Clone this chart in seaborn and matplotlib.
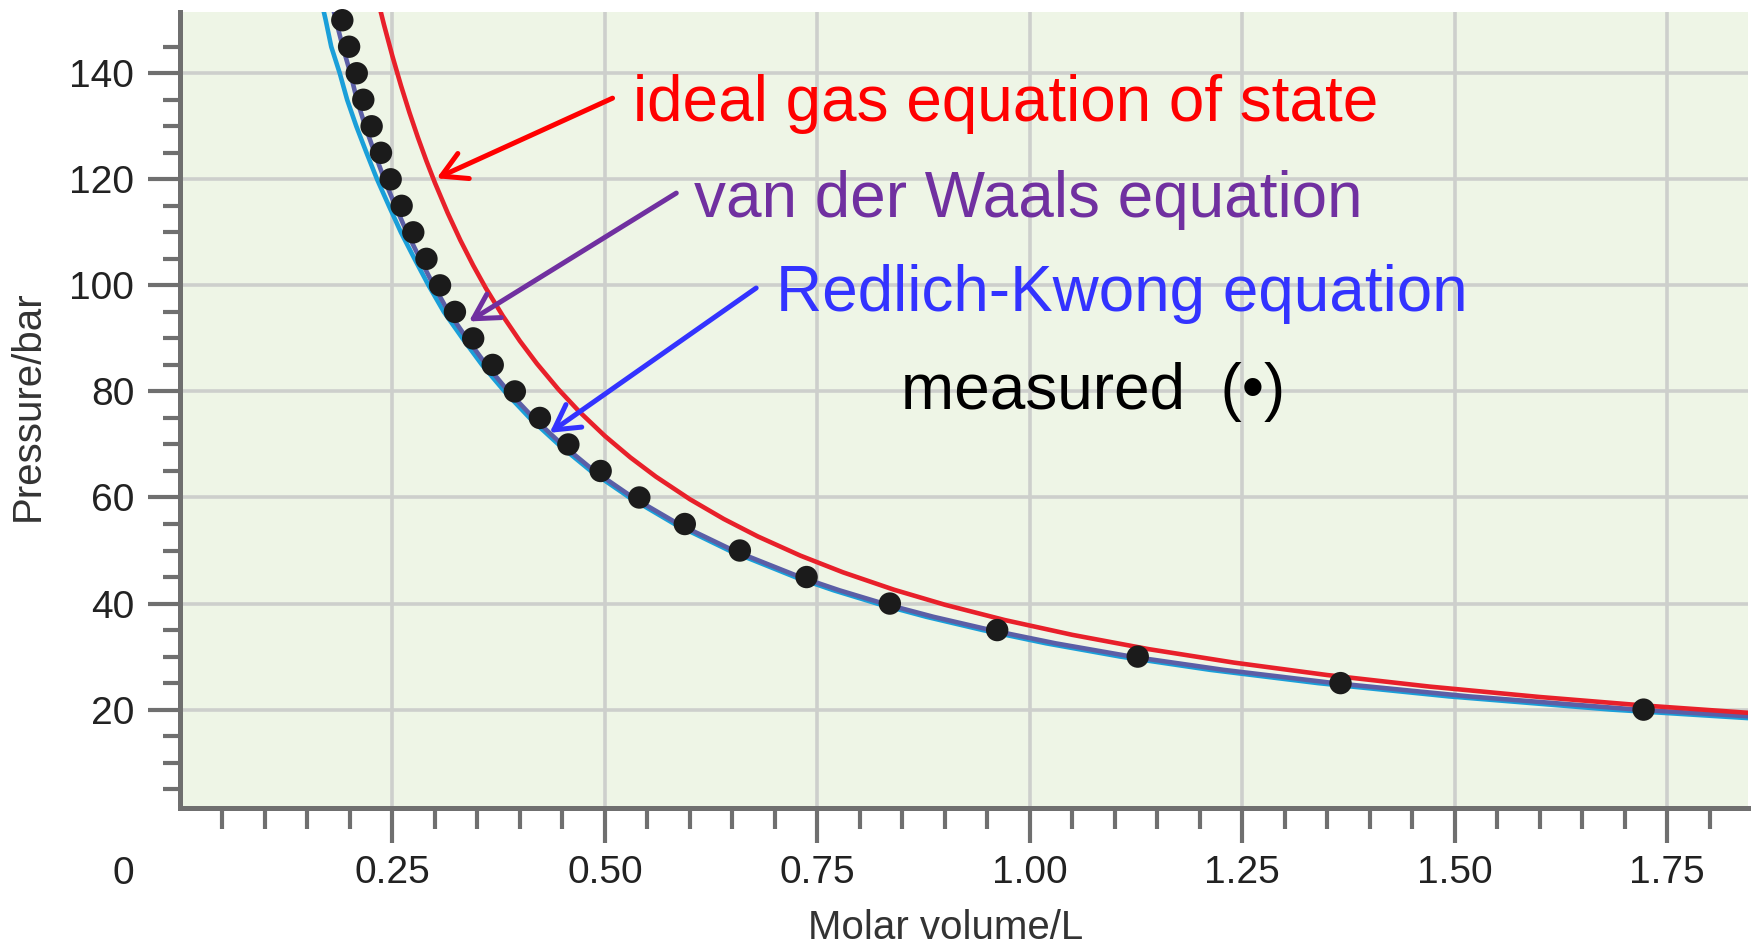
import matplotlib
matplotlib.use("Agg")
import matplotlib.pyplot as plt
import matplotlib.transforms as mtransforms
from matplotlib.ticker import FixedLocator
import seaborn as sns

# ---------------- data ----------------
# measured points (molar volume in L, pressure in bar)
meas_P = [150, 145, 140, 135, 130, 125, 120, 115, 110, 105, 100, 95, 90, 85, 80,
          75, 70, 65, 60, 55, 50, 45, 40, 35, 30, 25, 20]
meas_V = [0.191, 0.199, 0.208, 0.2157, 0.2255, 0.2365, 0.2479, 0.2608, 0.2745, 0.290,
          0.306, 0.3235, 0.345, 0.368, 0.394, 0.4235, 0.457, 0.495, 0.5405, 0.594,
          0.6588, 0.7373, 0.8353, 0.9616, 1.127, 1.3656, 1.7222]

# ideal gas curve (red)
ideal_V = [0.232, 0.24, 0.25, 0.26, 0.27, 0.28, 0.29, 0.30, 0.315, 0.33, 0.345, 0.36,
           0.38, 0.40, 0.42, 0.445, 0.47, 0.50, 0.53, 0.56, 0.60, 0.64, 0.68, 0.73,
           0.78, 0.84, 0.90, 0.97, 1.05, 1.14, 1.24, 1.35, 1.47, 1.60, 1.72, 1.845]
ideal_P = [154.31, 149.17, 143.2, 137.69, 132.59, 127.86, 123.45, 119.33, 113.65, 108.48,
           103.77, 99.44, 94.21, 89.5, 85.24, 80.45, 76.17, 71.6, 67.55, 63.93, 59.67,
           55.94, 52.65, 49.04, 45.90, 42.62, 39.78, 36.91, 34.10, 31.40, 28.87, 26.52,
           24.35, 22.38, 20.81, 19.40]

# van der Waals curve (slate purple)
vdw_P = [153, 150, 145, 140, 135, 130, 125, 120, 115, 110, 105, 100, 95, 90, 85, 80,
         75, 70, 65, 60, 55, 50, 45, 42.5, 40, 37.5, 35, 32.5, 30, 27.5, 25, 22.5, 20,
         18.75]
vdw_V = [0.179, 0.1835, 0.1915, 0.2005, 0.2082, 0.218, 0.229, 0.2404, 0.2533, 0.267,
         0.2825, 0.2985, 0.316, 0.3375, 0.3605, 0.3865, 0.416, 0.4495, 0.4875, 0.533,
         0.5865, 0.6513, 0.7298, 0.776, 0.8278, 0.8867, 0.9541, 1.0304, 1.1195, 1.228,
         1.3581, 1.5164, 1.7147, 1.845]

# Redlich-Kwong curve (cyan)
rk_P = [153, 150, 145, 140, 135, 130, 125, 120, 115, 110, 105, 100, 95, 90, 85, 80,
        75, 70, 65, 60, 55, 50, 45, 42.5, 40, 37.5, 35, 32.5, 30, 27.5, 25, 22.5, 20,
        18.4]
rk_V = [0.1672, 0.1715, 0.178, 0.188, 0.1967, 0.2075, 0.2195, 0.2319, 0.2458, 0.260,
        0.276, 0.2925, 0.3105, 0.3325, 0.3555, 0.382, 0.4115, 0.4455, 0.4835, 0.529,
        0.582, 0.6463, 0.7238, 0.7692, 0.8203, 0.8783, 0.9446, 1.0193, 1.1065, 1.2123,
        1.3391, 1.4928, 1.6847, 1.845]

x_major = [0.25, 0.50, 0.75, 1.00, 1.25, 1.50, 1.75]
x_major_labels = ["0.25", "0.50", "0.75", "1.00", "1.25", "1.50", "1.75"]
x_minor = [0.05, 0.10, 0.15, 0.20, 0.30, 0.35, 0.40, 0.45, 0.55, 0.60, 0.65, 0.70,
           0.80, 0.85, 0.90, 0.95, 1.05, 1.10, 1.15, 1.20, 1.30, 1.35, 1.40, 1.45,
           1.55, 1.60, 1.65, 1.70, 1.80]
y_major = [20, 40, 60, 80, 100, 120, 140]
y_minor = [5, 10, 15, 25, 30, 35, 45, 50, 55, 65, 70, 75, 85, 90, 95, 105, 110, 115,
           125, 130, 135, 145]

labels = ["ideal gas equation of state", "van der Waals equation",
          "Redlich-Kwong equation", "measured  (\u2022)"]

# ---------------- style ----------------
sns.set_theme(style="white")
plt.rcParams["font.family"] = ["Liberation Sans", "DejaVu Sans"]

AX_GRAY = "#6f6f6f"
fig = plt.figure(figsize=(17.56, 9.46), dpi=100)
ax = fig.add_axes([0.1025, 0.1456, 0.8929, 0.8420])
ax.set_facecolor("#eef5e6")

LW = 3.3
sns.lineplot(x=rk_V, y=rk_P, ax=ax, color="#1a9fd9", lw=LW, sort=False,
             estimator=None, zorder=3)
sns.lineplot(x=vdw_V, y=vdw_P, ax=ax, color="#5b5ea6", lw=LW, sort=False,
             estimator=None, zorder=3.2)
sns.lineplot(x=ideal_V, y=ideal_P, ax=ax, color="#e8202a", lw=LW, sort=False,
             estimator=None, zorder=3.4)
sns.scatterplot(x=meas_V, y=meas_P, ax=ax, color="#1b1b1b", s=260, edgecolor="none",
                zorder=5, clip_on=False)

ax.set_xlim(0, 1.845)
ax.set_ylim(1.4, 151.6)

ax.xaxis.set_major_locator(FixedLocator(x_major))
ax.set_xticklabels(x_major_labels)
ax.xaxis.set_minor_locator(FixedLocator(x_minor))
ax.yaxis.set_major_locator(FixedLocator(y_major))
ax.yaxis.set_minor_locator(FixedLocator(y_minor))

ax.grid(True, which="major", color="#cdcfcc", lw=2.6)
ax.set_axisbelow(True)

for side in ["top", "right"]:
    ax.spines[side].set_visible(False)
for side in ["left", "bottom"]:
    ax.spines[side].set_color(AX_GRAY)
    ax.spines[side].set_linewidth(3.6)

ax.tick_params(axis="x", which="major", direction="out", length=25, width=3,
               color=AX_GRAY, pad=9, labelsize=28, labelcolor="#222222", bottom=True)
ax.tick_params(axis="x", which="minor", direction="out", length=15, width=3,
               color=AX_GRAY, bottom=True)
ax.tick_params(axis="y", which="major", direction="out", length=23, width=3,
               color=AX_GRAY, pad=10, labelsize=28, labelcolor="#222222", left=True)
ax.tick_params(axis="y", which="minor", direction="out", length=12, width=3,
               color=AX_GRAY, left=True)

ax.set_xlabel("Molar volume/L", fontsize=29, color="#333333")
ax.xaxis.set_label_coords(0.488, -0.127)
ax.set_ylabel("Pressure/bar", fontsize=29, color="#333333")
ax.yaxis.set_label_coords(-0.085, 0.505)

# origin "0" label
blend = mtransforms.blended_transform_factory(ax.transData, ax.transAxes)
ax.text(-0.067, -0.082, "0", transform=blend, ha="center", va="center",
        fontsize=28, color="#222222")

# annotations
ax.text(0.533, 131.0, labels[0], color="#ff0000", fontsize=46, ha="left", va="baseline")
ax.text(0.605, 112.8, labels[1], color="#7030a0", fontsize=46, ha="left", va="baseline")
ax.text(0.701, 95.1, labels[2], color="#3333ff", fontsize=46, ha="left", va="baseline")
ax.text(0.849, 76.7, labels[3], color="black", fontsize=46, ha="left", va="baseline")

arrow_style = "->,head_length=0.8,head_width=0.45"
for tail, head, col in [((0.509, 135.3), (0.302, 120.2), "#ff0000"),
                        ((0.584, 117.4), (0.340, 93.2), "#7030a0"),
                        ((0.678, 99.5), (0.435, 72.2), "#3333ff")]:
    ax.annotate("", xy=head, xytext=tail,
                arrowprops=dict(arrowstyle=arrow_style, color=col, lw=3.6,
                                mutation_scale=22, shrinkA=0, shrinkB=0),
                zorder=6)

fig.savefig("out.png", dpi=100, facecolor="white")
